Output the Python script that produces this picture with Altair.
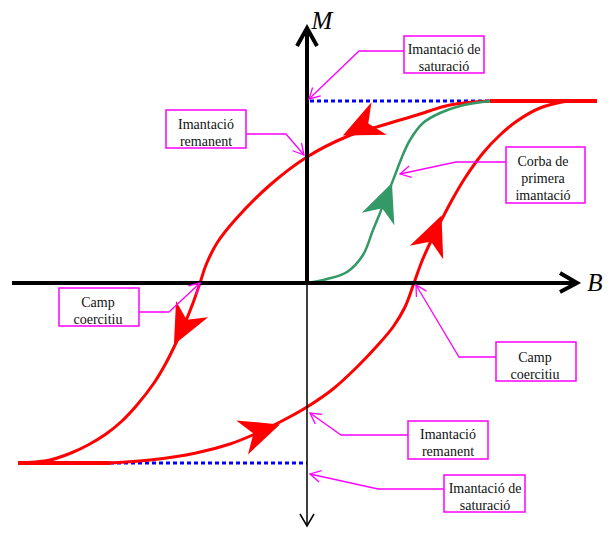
import math
import altair as alt
import pandas as pd

# ---------------- data (B, M in drawing units, origin at the axes crossing) ----------------
# descending branch of the loop (from positive saturation to negative saturation)
up_B = [183, 143, 110, 73, 39, 0, -37, -72, -90, -101, -107, -114, -122, -131, -141, -153,
        -170, -185, -201, -219, -236, -257, -272, -289]
up_M = [182, 178, 168, 157, 146, 126, 98, 63, 40, 18, 0, -20, -40, -60, -80, -100,
        -122, -138, -151, -162, -170, -177, -179, -180]
# ascending branch
lo_B = [-197, -157, -111, -77, -52, -27, 0, 26, 50, 70, 86, 98, 107, 115, 124, 134, 145,
        158, 176, 193, 210, 233, 260]
lo_M = [-180, -177, -170, -161, -151, -139, -124, -106, -84, -63, -44, -24, 0, 22, 42, 62, 83,
        105, 130, 148, 162, 175, 182]
# first magnetisation curve
gr_B = [0, 20, 40, 56, 66, 73, 78, 83, 88, 95, 103, 116, 133, 153, 183]
gr_M = [0, 4, 11, 28, 53, 70, 83, 95, 108, 126, 143, 160, 170, 177, 182]
# saturation plateaus (red) and dotted saturation guides (blue)
sat_top_B = [183, 290]
sat_top_M = [182, 182]
sat_bot_B = [-289, -197]
sat_bot_M = [-180, -180]
dot_top_B = [3, 188]
dot_top_M = [182, 182]
dot_bot_B = [-197, 0]
dot_bot_M = [-180, -180]

# axes
ax_h_B = [-295, 268]
ax_h_M = [0, 0]
ax_up_B = [0, 0]
ax_up_M = [0, 253]
ax_dn_B = [0, 0]
ax_dn_M = [0, -243]
chev_up_B = [-10, 0, 10]
chev_up_M = [237, 255, 237]
chev_rt_B = [253, 270, 253]
chev_rt_M = [10, 0, -9]
chev_dn_B = [-7, 0, 7]
chev_dn_M = [-231, -243, -231]

# direction arrowheads on the curves
arr_B = [54, -124, -46, 127]
arr_M = [156, -44, -148, 49]
arr_ang = [245, 207, 71, 22]
garr_B = [78]
garr_M = [82]
garr_ang = [21]

# annotation boxes
box_txt = ["Imantació de\nsaturació", "Imantació\nremanent", "Corba de\nprimera\nimantació",
           "Camp\ncoercitiu", "Camp\ncoercitiu", "Imantació\nremanent", "Imantació de\nsaturació"]
box_B1 = [97, -141, 199, -248, 189, 101, 137]
box_B2 = [177, -61, 278, -168, 269, 181, 218]
box_M1 = [247, 173, 136, -5, -59, -138, -192]
box_M2 = [210, 135, 80, -43, -98, -176, -229]
# position of the first text line in each box
txt_B = [137, -101, 236, -209, 228, 141, 178]
txt_M = [233, 158, 121, -20, -75, -152, -206]

# leader lines: box edge -> elbow -> tip
lead_B = [[97, 52, 2], [-61, -21, -3], [199, 149, 93], [-168, -138, -107],
          [189, 152, 109], [101, 34, 3], [137, 71, 3]]
lead_M = [[232, 232, 184], [149, 149, 128], [121, 121, 109], [-29, -29, 0],
          [-74, -74, -2], [-152, -152, -130], [-206, -206, -191]]

# ---------------- frames ----------------
def frame(name, Bs, Ms):
    return pd.DataFrame({"g": name, "k": list(range(len(Bs))), "B": Bs, "M": Ms})

xs = alt.Scale(domain=[-299, 297], nice=False, zero=False)
ys = alt.Scale(domain=[-245, 275], nice=False, zero=False)
X = alt.X("B:Q", scale=xs, axis=None)
Y = alt.Y("M:Q", scale=ys, axis=None)


def lines(df, color, width, **kw):
    return alt.Chart(df).mark_line(color=color, strokeWidth=width, **kw).encode(
        x=X, y=Y, detail="g:N", order="k:Q")


dots = lines(pd.concat([frame("t", dot_top_B, dot_top_M), frame("b", dot_bot_B, dot_bot_M)]),
             "#0000FF", 3, strokeDash=[4, 3])
flats = lines(pd.concat([frame("t", sat_top_B, sat_top_M), frame("b", sat_bot_B, sat_bot_M)]),
              "#FF0000", 4)
curves = alt.Chart(pd.concat([frame("up", up_B, up_M), frame("lo", lo_B, lo_M)])).mark_line(
    color="#FF0000", strokeWidth=3, interpolate="catmull-rom").encode(x=X, y=Y, detail="g:N")
green = alt.Chart(frame("g", gr_B, gr_M)).mark_line(
    color="#339966", strokeWidth=2.5, interpolate="catmull-rom").encode(x=X, y=Y)

thick_axes = lines(pd.concat([frame("h", ax_h_B, ax_h_M), frame("u", ax_up_B, ax_up_M),
                              frame("cu", chev_up_B, chev_up_M), frame("cr", chev_rt_B, chev_rt_M)]),
                   "#000000", 4)
thin_axes = lines(pd.concat([frame("d", ax_dn_B, ax_dn_M), frame("cd", chev_dn_B, chev_dn_M)]),
                  "#000000", 1.5)

arrow_path = "M0,-1L0.9,1L0,0.4L-0.9,1Z"
red_arrows = alt.Chart(pd.DataFrame({"B": arr_B, "M": arr_M, "a": arr_ang})).mark_point(
    shape=arrow_path, filled=True, color="#FF0000", size=1600, opacity=1, strokeWidth=0).encode(
    x=X, y=Y, angle=alt.Angle("a:Q", scale=None))
green_arrows = alt.Chart(pd.DataFrame({"B": garr_B, "M": garr_M, "a": garr_ang})).mark_point(
    shape=arrow_path, filled=True, color="#339966", size=1500, opacity=1, strokeWidth=0).encode(
    x=X, y=Y, angle=alt.Angle("a:Q", scale=None))

lead_df = pd.concat([frame(f"L{i}", b, m) for i, (b, m) in enumerate(zip(lead_B, lead_M))])
leaders = lines(lead_df, "#FF00FF", 1.3)
tips = pd.DataFrame({
    "B": [b[-1] for b in lead_B],
    "M": [m[-1] for m in lead_M],
    "a": [math.degrees(math.atan2(b[-1] - b[-2], m[-1] - m[-2])) % 360
          for b, m in zip(lead_B, lead_M)],
})
lead_tips = alt.Chart(tips).mark_point(
    shape="M-0.55,1L0,0L0.55,1", filled=False, color="#FF00FF", size=450, opacity=1,
    strokeWidth=1.3).encode(x=X, y=Y, angle=alt.Angle("a:Q", scale=None))

boxes_df = pd.DataFrame({"B": box_B1, "B2": box_B2, "M": box_M1, "M2": box_M2,
                         "t": box_txt, "tB": txt_B, "tM": txt_M})
boxes = alt.Chart(boxes_df).mark_rect(fill="#FFFFFF", stroke="#FF00FF", strokeWidth=1.5).encode(
    x=X, x2="B2:Q", y=Y, y2="M2:Q")
box_text = alt.Chart(boxes_df).mark_text(
    font="Liberation Serif", fontSize=14, lineBreak="\n", lineHeight=17, color="#111111",
    align="center", baseline="middle").encode(
    x=alt.X("tB:Q", scale=xs, axis=None), y=alt.Y("tM:Q", scale=ys, axis=None), text="t:N")

axis_labels = alt.Chart(pd.DataFrame({"B": [15, 288], "M": [262, 0], "t": ["M", "B"]})).mark_text(
    font="Liberation Serif", fontSize=25, fontStyle="italic", color="#000000",
    align="center", baseline="middle").encode(x=X, y=Y, text="t:N")

chart = alt.layer(
    dots, flats, curves, green, thick_axes, thin_axes, red_arrows, green_arrows,
    leaders, lead_tips, boxes, box_text, axis_labels
).properties(
    width=596, height=520, padding=0, autosize=alt.AutoSizeParams(type="none")
).configure_view(stroke=None)

chart.save("out.html", embed_options={"renderer": "svg", "actions": False})
